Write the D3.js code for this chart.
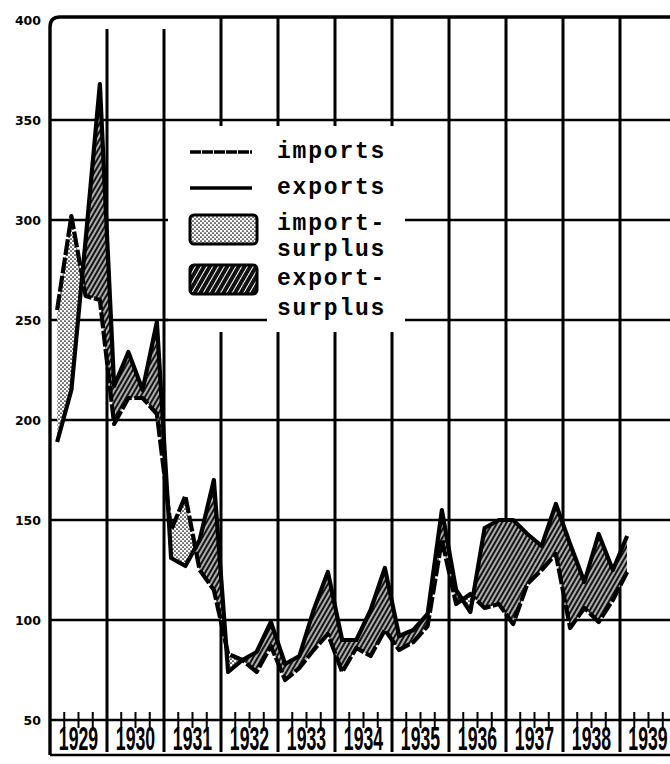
<!DOCTYPE html>
<html><head><meta charset="utf-8">
<script src="https://cdn.jsdelivr.net/npm/d3@7"></script>
<style>body{margin:0;background:#fff} svg{display:block}</style>
</head><body>
<svg id="c" width="670" height="764"></svg>
<script>
// ---- data (quarterly, 1929 Q1 .. 1939 Q1) ----
const years = [1929,1930,1931,1932,1933,1934,1935,1936,1937,1938,1939];
const yTicks = [50,100,150,200,250,300,350,400];
const importsQ = [
  255,302,262,260,   // 1929
  198,211,211,203,   // 1930
  145,162,125,115,   // 1931
  83,80,74,87,       // 1932
  70,76,85,93,       // 1933
  74,86,82,95,       // 1934
  85,89,97,140,      // 1935
  108,113,106,108,   // 1936
  98,118,125,133,    // 1937
  96,106,99,110,     // 1938
  124                // 1939
];
const exportsQ = [
  189,215,290,368,
  217,234,215,249,
  131,127,140,170,
  74,80,84,99,
  78,82,105,124,
  90,90,105,126,
  92,95,103,155,
  115,104,146,150,
  150,143,137,158,
  138,119,143,125,
  142
];
const legendLines = ["imports","exports"];
const legendBoxes = [["import-","surplus"],["export-","surplus"]];

// ---- scales ----
const svg = d3.select("#c");
const x = d3.scaleLinear().domain([1929,1940]).range([50,677]);
const y = d3.scaleLinear().domain([50,400]).range([720,20]);
const data = importsQ.map((v,i)=>({t:1929+(i+0.5)/4, imp:v, exp:exportsQ[i]}));

const defs = svg.append("defs");
const dots = defs.append("pattern").attr("id","dots").attr("patternUnits","userSpaceOnUse")
  .attr("width",4).attr("height",4);
dots.append("rect").attr("width",4).attr("height",4).attr("fill","#fff");
dots.append("circle").attr("cx",1).attr("cy",1).attr("r",0.85).attr("fill","#000");
dots.append("circle").attr("cx",3).attr("cy",3).attr("r",0.85).attr("fill","#000");

const hatch = defs.append("pattern").attr("id","hatch").attr("patternUnits","userSpaceOnUse")
  .attr("width",4).attr("height",4).attr("patternTransform","rotate(30)");
hatch.append("rect").attr("width",4).attr("height",4).attr("fill","#151515");
hatch.append("line").attr("x1",2).attr("x2",2).attr("y1",0).attr("y2",4)
  .attr("stroke","#fff").attr("stroke-width",1.3);

const hatch2 = defs.append("pattern").attr("id","hatch2").attr("patternUnits","userSpaceOnUse")
  .attr("width",5).attr("height",5).attr("patternTransform","rotate(30)");
hatch2.append("rect").attr("width",5).attr("height",5).attr("fill","#111");
hatch2.append("line").attr("x1",2.5).attr("x2",2.5).attr("y1",0).attr("y2",5)
  .attr("stroke","#fff").attr("stroke-width",1);

defs.append("clipPath").attr("id","clipAbove").append("path")
  .attr("d", d3.area().x(d=>x(d.t)).y0(0).y1(d=>y(d.exp))(data));
defs.append("clipPath").attr("id","clipBelow").append("path")
  .attr("d", d3.area().x(d=>x(d.t)).y0(764).y1(d=>y(d.exp))(data));

// ---- grid ----
const grid = svg.append("g").attr("stroke","#000").attr("fill","none");
yTicks.filter(v=>v>50 && v<400).forEach(v=>{
  grid.append("line").attr("x1",50).attr("x2",670).attr("y1",y(v)).attr("y2",y(v))
    .attr("stroke-width",2.4);
});
years.slice(1).forEach((yr,i)=>{
  grid.append("line").attr("x1",x(yr)).attr("x2",x(yr))
    .attr("y1", i<2 ? 29 : 17).attr("y2",752).attr("stroke-width",3);
});
// x axis (50 line) and quarter ticks
grid.append("line").attr("x1",50).attr("x2",670).attr("y1",y(50)).attr("y2",y(50)).attr("stroke-width",2.6);
years.forEach(yr=>{
  [1,2,3].forEach(q=>{
    const xx = x(yr+q/4);
    if (xx<668) grid.append("line").attr("x1",xx).attr("x2",xx).attr("y1",712).attr("y2",728).attr("stroke-width",2);
  });
});
// frame
svg.append("path").attr("d","M50,755 V27 Q50,17 60,17 H670").attr("fill","none")
  .attr("stroke","#000").attr("stroke-width",3.4);
svg.append("line").attr("x1",50).attr("x2",670).attr("y1",755).attr("y2",755)
  .attr("stroke","#000").attr("stroke-width",2.6);

// legend background mask
svg.append("rect").attr("x",168).attr("y",126).attr("width",237).attr("height",206).attr("fill","#fff");
svg.append("line").attr("x1",165).attr("x2",267).attr("y1",y(250)).attr("y2",y(250))
  .attr("stroke","#000").attr("stroke-width",2.4);

// ---- surplus areas ----
const between = d3.area().x(d=>x(d.t)).y0(d=>y(d.exp)).y1(d=>y(d.imp));
svg.append("path").attr("d",between(data)).attr("fill","url(#dots)").attr("clip-path","url(#clipAbove)");
svg.append("path").attr("d",between(data)).attr("fill","url(#hatch)").attr("clip-path","url(#clipBelow)");

// ---- lines ----
const lineImp = d3.line().x(d=>x(d.t)).y(d=>y(d.imp));
const lineExp = d3.line().x(d=>x(d.t)).y(d=>y(d.exp));
svg.append("path").attr("d",lineExp(data)).attr("fill","none").attr("stroke","#000")
  .attr("stroke-width",4.2).attr("stroke-linejoin","round");
svg.append("path").attr("d",lineImp(data)).attr("fill","none").attr("stroke","#000")
  .attr("stroke-width",4.2).attr("stroke-linejoin","round").attr("stroke-dasharray","16,2.5");

// ---- legend ----
const lg = svg.append("g");
const lineYs = [152,188];
legendLines.forEach((t,i)=>{
  lg.append("line").attr("x1",190).attr("x2",252).attr("y1",lineYs[i]).attr("y2",lineYs[i])
    .attr("stroke","#000").attr("stroke-width",3.4).attr("stroke-dasharray", i===0?"11,1":null);
  lg.append("text").attr("x",277).attr("y",lineYs[i]+6).text(t);
});
const boxYs = [215,265];
const boxFills = ["url(#dots)","url(#hatch2)"];
const boxText = [[230,256],[285,315]];
legendBoxes.forEach((lab,i)=>{
  lg.append("rect").attr("x",190).attr("y",boxYs[i]).attr("width",67).attr("height",29)
    .attr("rx",4).attr("fill",boxFills[i]).attr("stroke","#000").attr("stroke-width",3);
  lab.forEach((t,j)=>lg.append("text").attr("x",277).attr("y",boxText[i][j]).text(t));
});
lg.selectAll("text").attr("font-family","'Liberation Mono', 'DejaVu Sans Mono', monospace")
  .attr("font-weight","bold").attr("font-size",23).attr("letter-spacing",1.8).attr("fill","#000");

// ---- y labels ----
svg.append("g").selectAll("text").data(yTicks).join("text")
  .attr("x",41).attr("y",d=>y(d)+4.5).attr("text-anchor","end")
  .attr("font-family","'DejaVu Sans', sans-serif").attr("font-weight","bold")
  .attr("font-size",12.5).attr("fill","#000").text(d=>d);

// ---- year labels ----
svg.append("g").selectAll("text").data(years).join("text")
  .attr("transform",d=>`translate(${Math.min(x(d+0.5), 648)},750) scale(0.52,1)`)
  .attr("text-anchor","middle")
  .attr("font-family","'Liberation Sans', Arial, sans-serif").attr("font-weight","bold")
  .attr("font-size",34).attr("fill","#000").text(d=>d);
</script>
</body></html>
